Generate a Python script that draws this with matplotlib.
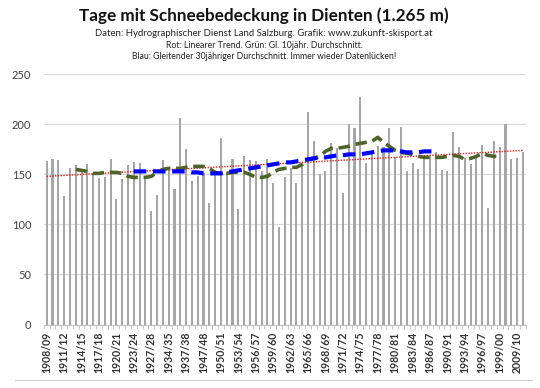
import numpy as np
import matplotlib
matplotlib.use("Agg")
import matplotlib.pyplot as plt
from matplotlib.lines import Line2D

# season start years (gaps in the record are simply missing)
season_start = ([*range(1908, 1926), 1927, 1928, 1933, 1934, 1935, 1936, 1937, 1938, 1946,
                 *range(1947, 1989), *range(1990, 2001), 2008, 2009, 2010])
seasons = [f"{y}/{str(y + 1)[-2:]}" for y in season_start]

snow_days = [163, 165, 164, 128, 156, 159, 154, 160, 150, 146,
             147, 165, 125, 145, 159, 162, 161, 146, 113, 129,
             164, 157, 135, 206, 175, 143, 148, 151, 121, 152,
             186, 151, 165, 115, 168, 164, 163, 153, 165, 141,
             97, 147, 156, 141, 160, 212, 183, 150, 153, 181,
             176, 131, 200, 196, 227, 161, 170, 178, 177, 196,
             167, 197, 153, 161, 155, 166, 168, 172, 154, 153,
             192, 177, 166, 160, 166, 179, 116, 183, 177, 200,
             165, 166, 172]

# 10-year moving average (green), starts at index 5
avg10_start = 5
avg10 = [155, 154, 153, 151, 151, 152, 152, 152, 151, 148,
         147, 147, 147, 148, 152, 155, 156, 156, 156, 157,
         158, 158, 158, 156, 152, 151, 151, 152, 152, 152,
         150, 147, 147, 148, 152, 155, 156, 157, 157, 160,
         165, 166, 168, 173, 176, 176, 177, 178, 180, 181,
         182, 183, 187, 182, 178, 174, 172, 171, 170, 168,
         167, 167, 167, 167, 168, 169, 168, 165, 166, 168,
         171, 169, 168, 168]

# 30-year moving average (blue), starts at index 15
avg30_start = 15
avg30 = [153, 153, 153, 153, 153, 153, 153, 153, 153, 153,
         152, 152, 151, 151, 151, 151, 152, 153, 154, 155,
         156, 157, 158, 159, 160, 161, 162, 162, 163, 164,
         165, 166, 167, 167, 168, 169, 169, 170, 170, 170,
         171, 172, 173, 174, 174, 174, 173, 172, 172, 172,
         173, 173, 173]

# linear trend (red), values at first and last season
trend_ends = [148, 174]

yticks = [0, 50, 100, 150, 200, 250]

plt.rcParams['font.family'] = ['Lato', 'DejaVu Sans']

fig = plt.figure(figsize=(5.4, 3.88), dpi=100)
ax = fig.add_axes([43.8 / 540, 1 - 324.5 / 388, 482 / 540, 250.2 / 388])

x = np.arange(len(snow_days))
ax.bar(x, snow_days, width=0.36, color='#A6A6A6', zorder=2)

x10 = np.arange(avg10_start, avg10_start + len(avg10))
ax.plot(x10, avg10, color='#4F6228', lw=2.6, ls=(0, (3.2, 1.6)), zorder=4)
x30 = np.arange(avg30_start, avg30_start + len(avg30))
ax.plot(x30, avg30, color='#0000FF', lw=3.0, ls=(0, (3, 1.6)), zorder=5)
ax.plot([x[0], x[-1]], trend_ends, color='#E0201B', lw=1.0, ls=(0, (1, 1)), zorder=3)

ax.set_xlim(-0.5, len(snow_days) - 0.5)
ax.set_ylim(0, 250)
ax.set_yticks(yticks)
ax.tick_params(axis='y', length=0, pad=9, labelsize=8, labelcolor='#404040')
ax.grid(axis='y', color='#D9D9D9', lw=0.8, zorder=0)

ax.set_xticks(x[::3])
ax.set_xticklabels(seasons[::3], rotation=90, fontsize=7.6, color='#333333', fontweight='bold')
ax.set_xticks(np.arange(-0.5, len(snow_days)), minor=True)
ax.tick_params(axis='x', which='major', length=0, pad=5)
ax.tick_params(axis='x', which='minor', length=3, color='#BFBFBF', width=0.6)

for s in ['top', 'right', 'left']:
    ax.spines[s].set_visible(False)
ax.spines['bottom'].set_color('#BFBFBF')
ax.spines['bottom'].set_linewidth(0.8)

cx = 264 / 540
fig.text(cx, 1 - 16 / 388, 'Tage mit Schneebedeckung in Dienten (1.265 m)',
         ha='center', va='center', fontsize=12.3, fontweight='bold', color='#111111')
fig.text(cx, 1 - 33 / 388, 'Daten: Hydrographischer Dienst Land Salzburg. Grafik: www.zukunft-skisport.at',
         ha='center', va='center', fontsize=6.9, color='#222222')
fig.text(cx, 1 - 45 / 388, 'Rot: Linearer Trend. Grün: Gl. 10jähr. Durchschnitt.',
         ha='center', va='center', fontsize=6.3, color='#222222')
fig.text(cx, 1 - 56.5 / 388, 'Blau: Gleitender 30jähriger Durchschnitt. Immer wieder Datenlücken!',
         ha='center', va='center', fontsize=6.2, color='#222222')

fig.add_artist(Line2D([15 / 540, 532 / 540], [1 - 380 / 388, 1 - 380 / 388],
                      color='#D0D0D0', lw=0.8))

fig.savefig('out.png', dpi=100)
